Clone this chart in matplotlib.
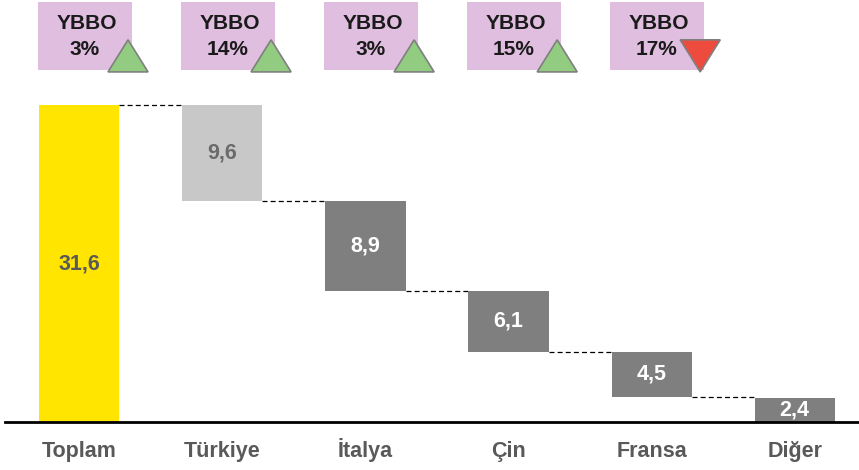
import matplotlib
matplotlib.use("Agg")
import matplotlib.pyplot as plt
from matplotlib.patches import Rectangle, Polygon

categories = ["Toplam", "Türkiye", "İtalya", "Çin", "Fransa", "Diğer"]
values = [31.6, 9.6, 8.9, 6.1, 4.5, 2.4]
value_labels = ["31,6", "9,6", "8,9", "6,1", "4,5", "2,4"]
ybbo_labels = ["3%", "14%", "3%", "15%", "17%"]
ybbo_up = [True, True, True, True, False]

plt.rcParams['font.family'] = ['Liberation Sans', 'DejaVu Sans']

fig = plt.figure(figsize=(8.59, 4.70), dpi=100)
ax = fig.add_axes([5/859, 48/470, 1 - 5/859, 1 - 48/470])
ax.set_xlim(-0.52, 5.45)
ax.set_ylim(0, 42.07)

bar_colors = ["#FFE500", "#C8C8C8", "#7F7F7F", "#7F7F7F", "#7F7F7F", "#7F7F7F"]
label_colors = ["#595959", "#6A6A6A", "white", "white", "white", "white"]
width = 0.56

# waterfall bottoms
bottoms = []
running = values[0]
for i, v in enumerate(values):
    if i == 0:
        bottoms.append(0)
    elif i == len(values) - 1:
        bottoms.append(0)
    else:
        running -= v
        bottoms.append(running)

x = list(range(len(categories)))
ax.bar(x, values, bottom=bottoms, width=width, color=bar_colors, zorder=2)

for i in x:
    ax.text(i, bottoms[i] + values[i] / 2, value_labels[i], ha="center", va="center",
            fontsize=15.5, fontweight="bold", color=label_colors[i], zorder=3)

# connectors
for i in range(len(values) - 1):
    level = bottoms[i] + values[i] if i == 0 else bottoms[i]
    ax.plot([i + width / 2, i + 1 - width / 2], [level, level], ls=(0, (4, 2.5)),
            color="black", lw=0.9, zorder=1)

# YBBO boxes
for i, (lab, up) in enumerate(zip(ybbo_labels, ybbo_up)):
    ax.add_patch(Rectangle((i - 0.29, 35.1), 0.657, 6.8, facecolor="#E0BEDF",
                           edgecolor="none", clip_on=False, zorder=2))
    ax.text(i + 0.05, 39.7, "YBBO", ha="center", va="center", fontsize=15,
            fontweight="bold", color="#1A1A1A", zorder=3, clip_on=False)
    ax.text(i + 0.035, 37.1, lab, ha="center", va="center", fontsize=15,
            fontweight="bold", color="#1A1A1A", zorder=3, clip_on=False)
    if up:
        pts = [(i + 0.2, 34.9), (i + 0.48, 34.9), (i + 0.34, 38.1)]
        fc = "#92CC80"
    else:
        pts = [(i + 0.2, 38.1), (i + 0.48, 38.1), (i + 0.34, 34.9)]
        fc = "#EE4B3F"
    ax.add_patch(Polygon(pts, closed=True, facecolor=fc, edgecolor="#7F7F7F",
                         lw=1.2, clip_on=False, zorder=4))

for s in ["top", "right", "left"]:
    ax.spines[s].set_visible(False)
ax.spines["bottom"].set_linewidth(2)
ax.spines["bottom"].set_color("black")
ax.set_yticks([])
ax.set_xticks(x)
ax.set_xticklabels(categories, fontsize=15.5, fontweight="bold", color="#595959",
                   va="baseline")
ax.tick_params(axis="x", length=0, pad=25.5)

fig.savefig("out.png", dpi=100)
